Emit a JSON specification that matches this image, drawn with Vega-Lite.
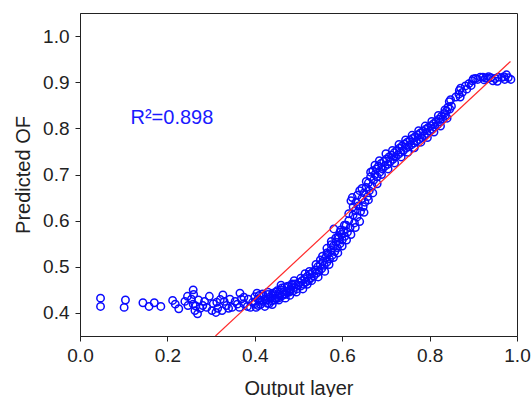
{
  "$schema": "https://vega.github.io/schema/vega-lite/v6.json",
  "width": 437,
  "height": 323,
  "autosize": "none",
  "padding": {"left": 80, "top": 13, "right": 14, "bottom": 61},
  "background": "white",
  "config": {
    "view": {"stroke": "#222", "strokeWidth": 1},
    "font": "Liberation Sans",
    "axis": {
      "grid": false,
      "domainColor": "#222",
      "tickColor": "#222",
      "tickSize": 5,
      "labelFont": "Liberation Sans",
      "labelFontSize": 19,
      "labelColor": "#222",
      "titleFont": "Liberation Sans",
      "titleFontSize": 20,
      "titleFontWeight": "normal",
      "titleColor": "#222"
    }
  },
  "datasets": {
    "pts": [
      {"x": 0.047, "y": 0.432}, {"x": 0.047, "y": 0.414}, {"x": 0.104, "y": 0.428}, {"x": 0.101, "y": 0.412},
      {"x": 0.144, "y": 0.422}, {"x": 0.158, "y": 0.414}, {"x": 0.170, "y": 0.422}, {"x": 0.185, "y": 0.414},
      {"x": 0.212, "y": 0.427}, {"x": 0.218, "y": 0.419}, {"x": 0.226, "y": 0.409},
      {"x": 0.246, "y": 0.436}, {"x": 0.247, "y": 0.416}, {"x": 0.259, "y": 0.450}, {"x": 0.260, "y": 0.440},
      {"x": 0.259, "y": 0.419}, {"x": 0.263, "y": 0.405}, {"x": 0.269, "y": 0.398}, {"x": 0.271, "y": 0.428},
      {"x": 0.281, "y": 0.416}, {"x": 0.290, "y": 0.412}, {"x": 0.296, "y": 0.436}, {"x": 0.302, "y": 0.405},
      {"x": 0.311, "y": 0.401}, {"x": 0.313, "y": 0.423}, {"x": 0.321, "y": 0.429}, {"x": 0.325, "y": 0.405},
      {"x": 0.327, "y": 0.439}, {"x": 0.335, "y": 0.416}, {"x": 0.343, "y": 0.430}, {"x": 0.348, "y": 0.412},
      {"x": 0.360, "y": 0.419}, {"x": 0.366, "y": 0.443}, {"x": 0.369, "y": 0.430}, {"x": 0.375, "y": 0.434},
      {"x": 0.383, "y": 0.414}, {"x": 0.395, "y": 0.423}, {"x": 0.400, "y": 0.435}, {"x": 0.405, "y": 0.443},
      {"x": 0.408, "y": 0.416}, {"x": 0.412, "y": 0.428}, {"x": 0.418, "y": 0.441}, {"x": 0.423, "y": 0.430},
      {"x": 0.429, "y": 0.421}, {"x": 0.435, "y": 0.435}, {"x": 0.441, "y": 0.443}, {"x": 0.447, "y": 0.432},
      {"x": 0.451, "y": 0.448}, {"x": 0.457, "y": 0.437}, {"x": 0.462, "y": 0.454}, {"x": 0.468, "y": 0.441},
      {"x": 0.474, "y": 0.457}, {"x": 0.480, "y": 0.448}, {"x": 0.485, "y": 0.463},
      {"x": 0.240, "y": 0.425}, {"x": 0.255, "y": 0.430}, {"x": 0.265, "y": 0.415}, {"x": 0.275, "y": 0.410},
      {"x": 0.285, "y": 0.425}, {"x": 0.305, "y": 0.420}, {"x": 0.315, "y": 0.410}, {"x": 0.330, "y": 0.425},
      {"x": 0.340, "y": 0.410}, {"x": 0.355, "y": 0.425}, {"x": 0.365, "y": 0.412}, {"x": 0.375, "y": 0.420},
      {"x": 0.385, "y": 0.430}, {"x": 0.390, "y": 0.412},
      {"x": 0.400, "y": 0.420}, {"x": 0.403, "y": 0.412}, {"x": 0.407, "y": 0.430}, {"x": 0.410, "y": 0.438},
      {"x": 0.413, "y": 0.418}, {"x": 0.417, "y": 0.425}, {"x": 0.420, "y": 0.436}, {"x": 0.423, "y": 0.414},
      {"x": 0.426, "y": 0.428}, {"x": 0.430, "y": 0.440}, {"x": 0.433, "y": 0.420}, {"x": 0.436, "y": 0.432},
      {"x": 0.439, "y": 0.426}, {"x": 0.442, "y": 0.438}, {"x": 0.445, "y": 0.428}, {"x": 0.448, "y": 0.445},
      {"x": 0.450, "y": 0.431}, {"x": 0.453, "y": 0.440}, {"x": 0.456, "y": 0.433}, {"x": 0.459, "y": 0.450},
      {"x": 0.462, "y": 0.437}, {"x": 0.465, "y": 0.445}, {"x": 0.468, "y": 0.455}, {"x": 0.470, "y": 0.440},
      {"x": 0.473, "y": 0.447}, {"x": 0.476, "y": 0.458}, {"x": 0.479, "y": 0.445}, {"x": 0.482, "y": 0.452},
      {"x": 0.485, "y": 0.460}, {"x": 0.488, "y": 0.448}, {"x": 0.490, "y": 0.455}, {"x": 0.493, "y": 0.463},
      {"x": 0.496, "y": 0.452}, {"x": 0.499, "y": 0.460},
      {"x": 0.430, "y": 0.445}, {"x": 0.440, "y": 0.418}, {"x": 0.455, "y": 0.428}, {"x": 0.460, "y": 0.460},
      {"x": 0.470, "y": 0.432}, {"x": 0.480, "y": 0.438}, {"x": 0.490, "y": 0.470}, {"x": 0.495, "y": 0.445},
      {"x": 0.505, "y": 0.475}, {"x": 0.510, "y": 0.452}, {"x": 0.515, "y": 0.485}, {"x": 0.520, "y": 0.462},
      {"x": 0.525, "y": 0.490}, {"x": 0.530, "y": 0.470}, {"x": 0.540, "y": 0.505}, {"x": 0.545, "y": 0.478},
      {"x": 0.550, "y": 0.515}, {"x": 0.560, "y": 0.490}, {"x": 0.565, "y": 0.530}, {"x": 0.570, "y": 0.505},
      {"x": 0.575, "y": 0.555}, {"x": 0.580, "y": 0.520}, {"x": 0.585, "y": 0.562}, {"x": 0.590, "y": 0.530},
      {"x": 0.595, "y": 0.575}, {"x": 0.600, "y": 0.545}, {"x": 0.605, "y": 0.590}, {"x": 0.610, "y": 0.558},
      {"x": 0.615, "y": 0.615}, {"x": 0.620, "y": 0.570}, {"x": 0.625, "y": 0.630}, {"x": 0.630, "y": 0.585},
      {"x": 0.635, "y": 0.655}, {"x": 0.640, "y": 0.598}, {"x": 0.645, "y": 0.670}, {"x": 0.650, "y": 0.618},
      {"x": 0.655, "y": 0.685}, {"x": 0.660, "y": 0.645}, {"x": 0.665, "y": 0.705}, {"x": 0.670, "y": 0.660},
      {"x": 0.675, "y": 0.720}, {"x": 0.680, "y": 0.680}, {"x": 0.685, "y": 0.730}, {"x": 0.690, "y": 0.700},
      {"x": 0.700, "y": 0.745}, {"x": 0.705, "y": 0.712}, {"x": 0.715, "y": 0.752}, {"x": 0.720, "y": 0.725},
      {"x": 0.730, "y": 0.765}, {"x": 0.735, "y": 0.738}, {"x": 0.745, "y": 0.775}, {"x": 0.750, "y": 0.748},
      {"x": 0.760, "y": 0.785}, {"x": 0.765, "y": 0.758}, {"x": 0.775, "y": 0.795}, {"x": 0.780, "y": 0.770},
      {"x": 0.790, "y": 0.805}, {"x": 0.795, "y": 0.780}, {"x": 0.805, "y": 0.815}, {"x": 0.810, "y": 0.792},
      {"x": 0.820, "y": 0.828}, {"x": 0.825, "y": 0.805}, {"x": 0.835, "y": 0.840}, {"x": 0.840, "y": 0.822},
      {"x": 0.850, "y": 0.848}, {"x": 0.860, "y": 0.868}, {"x": 0.870, "y": 0.868}, {"x": 0.885, "y": 0.885},
      {"x": 0.895, "y": 0.893}, {"x": 0.900, "y": 0.907}, {"x": 0.925, "y": 0.905}, {"x": 0.935, "y": 0.912},
      {"x": 0.955, "y": 0.902}, {"x": 0.970, "y": 0.912}, {"x": 0.980, "y": 0.910},
      {"x": 0.502, "y": 0.466}, {"x": 0.505, "y": 0.458}, {"x": 0.508, "y": 0.470}, {"x": 0.511, "y": 0.462},
      {"x": 0.514, "y": 0.474}, {"x": 0.517, "y": 0.467}, {"x": 0.520, "y": 0.479}, {"x": 0.523, "y": 0.470},
      {"x": 0.526, "y": 0.484}, {"x": 0.529, "y": 0.476}, {"x": 0.532, "y": 0.488}, {"x": 0.535, "y": 0.480},
      {"x": 0.538, "y": 0.493}, {"x": 0.541, "y": 0.486}, {"x": 0.544, "y": 0.500}, {"x": 0.547, "y": 0.490},
      {"x": 0.550, "y": 0.505}, {"x": 0.553, "y": 0.496}, {"x": 0.556, "y": 0.512}, {"x": 0.559, "y": 0.503},
      {"x": 0.562, "y": 0.520}, {"x": 0.565, "y": 0.510}, {"x": 0.568, "y": 0.528}, {"x": 0.571, "y": 0.517},
      {"x": 0.574, "y": 0.536}, {"x": 0.577, "y": 0.525}, {"x": 0.580, "y": 0.545}, {"x": 0.583, "y": 0.533},
      {"x": 0.586, "y": 0.553}, {"x": 0.589, "y": 0.541}, {"x": 0.592, "y": 0.562}, {"x": 0.595, "y": 0.550},
      {"x": 0.598, "y": 0.570}, {"x": 0.600, "y": 0.558},
      {"x": 0.555, "y": 0.523}, {"x": 0.565, "y": 0.540}, {"x": 0.575, "y": 0.548}, {"x": 0.581, "y": 0.582},
      {"x": 0.590, "y": 0.565}, {"x": 0.597, "y": 0.580},
      {"x": 0.603, "y": 0.578}, {"x": 0.606, "y": 0.566}, {"x": 0.609, "y": 0.590}, {"x": 0.612, "y": 0.575},
      {"x": 0.615, "y": 0.600}, {"x": 0.618, "y": 0.585}, {"x": 0.620, "y": 0.643}, {"x": 0.623, "y": 0.650},
      {"x": 0.625, "y": 0.612}, {"x": 0.628, "y": 0.595}, {"x": 0.630, "y": 0.622}, {"x": 0.632, "y": 0.640},
      {"x": 0.634, "y": 0.608}, {"x": 0.637, "y": 0.632}, {"x": 0.640, "y": 0.665}, {"x": 0.642, "y": 0.620},
      {"x": 0.645, "y": 0.648}, {"x": 0.648, "y": 0.630}, {"x": 0.650, "y": 0.660}, {"x": 0.652, "y": 0.640},
      {"x": 0.655, "y": 0.672}, {"x": 0.658, "y": 0.652}, {"x": 0.660, "y": 0.682}, {"x": 0.662, "y": 0.665},
      {"x": 0.665, "y": 0.695}, {"x": 0.668, "y": 0.675}, {"x": 0.670, "y": 0.708}, {"x": 0.672, "y": 0.688},
      {"x": 0.675, "y": 0.700}, {"x": 0.678, "y": 0.712}, {"x": 0.680, "y": 0.695}, {"x": 0.683, "y": 0.718},
      {"x": 0.686, "y": 0.705}, {"x": 0.689, "y": 0.724}, {"x": 0.692, "y": 0.712}, {"x": 0.695, "y": 0.728},
      {"x": 0.698, "y": 0.718},
      {"x": 0.701, "y": 0.733}, {"x": 0.704, "y": 0.722}, {"x": 0.707, "y": 0.738}, {"x": 0.710, "y": 0.728},
      {"x": 0.713, "y": 0.742}, {"x": 0.716, "y": 0.733}, {"x": 0.719, "y": 0.747}, {"x": 0.722, "y": 0.738},
      {"x": 0.725, "y": 0.752}, {"x": 0.728, "y": 0.743}, {"x": 0.731, "y": 0.757}, {"x": 0.734, "y": 0.748},
      {"x": 0.737, "y": 0.762}, {"x": 0.740, "y": 0.752}, {"x": 0.743, "y": 0.766}, {"x": 0.746, "y": 0.757},
      {"x": 0.749, "y": 0.770}, {"x": 0.752, "y": 0.760}, {"x": 0.755, "y": 0.774}, {"x": 0.758, "y": 0.764},
      {"x": 0.761, "y": 0.778}, {"x": 0.764, "y": 0.768}, {"x": 0.767, "y": 0.782}, {"x": 0.770, "y": 0.772},
      {"x": 0.773, "y": 0.786}, {"x": 0.776, "y": 0.776}, {"x": 0.779, "y": 0.790}, {"x": 0.782, "y": 0.780},
      {"x": 0.785, "y": 0.794}, {"x": 0.788, "y": 0.784}, {"x": 0.791, "y": 0.798}, {"x": 0.794, "y": 0.789},
      {"x": 0.797, "y": 0.802}, {"x": 0.800, "y": 0.794}, {"x": 0.803, "y": 0.806}, {"x": 0.806, "y": 0.798},
      {"x": 0.809, "y": 0.810}, {"x": 0.812, "y": 0.803}, {"x": 0.815, "y": 0.815}, {"x": 0.818, "y": 0.808},
      {"x": 0.821, "y": 0.820}, {"x": 0.824, "y": 0.814}, {"x": 0.827, "y": 0.826}, {"x": 0.830, "y": 0.820},
      {"x": 0.833, "y": 0.832}, {"x": 0.836, "y": 0.828}, {"x": 0.839, "y": 0.838}, {"x": 0.842, "y": 0.846},
      {"x": 0.845, "y": 0.858}, {"x": 0.848, "y": 0.862}, {"x": 0.846, "y": 0.842},
      {"x": 0.867, "y": 0.874}, {"x": 0.868, "y": 0.882}, {"x": 0.871, "y": 0.887}, {"x": 0.875, "y": 0.878},
      {"x": 0.882, "y": 0.892}, {"x": 0.890, "y": 0.897}, {"x": 0.898, "y": 0.903}, {"x": 0.905, "y": 0.908},
      {"x": 0.910, "y": 0.906}, {"x": 0.916, "y": 0.911}, {"x": 0.922, "y": 0.911}, {"x": 0.928, "y": 0.909},
      {"x": 0.933, "y": 0.908}, {"x": 0.940, "y": 0.910}, {"x": 0.945, "y": 0.903}, {"x": 0.950, "y": 0.908},
      {"x": 0.957, "y": 0.911}, {"x": 0.965, "y": 0.910}, {"x": 0.972, "y": 0.906}, {"x": 0.976, "y": 0.916},
      {"x": 0.986, "y": 0.906}
    ],
    "fit": [{"x": 0.31, "y": 0.35}, {"x": 0.985, "y": 0.945}],
    "lbl": [{"x": 0.1155, "y": 0.823, "t": "R²=0.898"}]
  },
  "layer": [
    {
      "data": {"name": "pts"},
      "mark": {"type": "point", "shape": "circle", "filled": false, "color": "#0a0aff", "size": 55, "strokeWidth": 1.5, "opacity": 1},
      "encoding": {
        "x": {"field": "x", "type": "quantitative", "scale": {"domain": [0, 1], "nice": false, "zero": false},
              "axis": {"values": [0, 0.2, 0.4, 0.6, 0.8, 1.0], "format": ".1f", "title": "Output layer", "titlePadding": 13, "labelPadding": 5, "labelFlush": false}},
        "y": {"field": "y", "type": "quantitative", "scale": {"domain": [0.35, 1.05], "nice": false, "zero": false},
              "axis": {"values": [0.4, 0.5, 0.6, 0.7, 0.8, 0.9, 1.0], "format": ".1f", "title": "Predicted OF", "titlePadding": 9, "labelPadding": 6}}
      }
    },
    {
      "data": {"name": "fit"},
      "mark": {"type": "line", "color": "#ff2a2a", "strokeWidth": 1.2, "clip": true},
      "encoding": {
        "x": {"field": "x", "type": "quantitative"},
        "y": {"field": "y", "type": "quantitative"}
      }
    },
    {
      "data": {"name": "lbl"},
      "mark": {"type": "text", "align": "left", "baseline": "middle", "fontSize": 20, "color": "#1a1aff", "font": "Liberation Sans"},
      "encoding": {
        "x": {"field": "x", "type": "quantitative"},
        "y": {"field": "y", "type": "quantitative"},
        "text": {"field": "t"}
      }
    }
  ]
}
